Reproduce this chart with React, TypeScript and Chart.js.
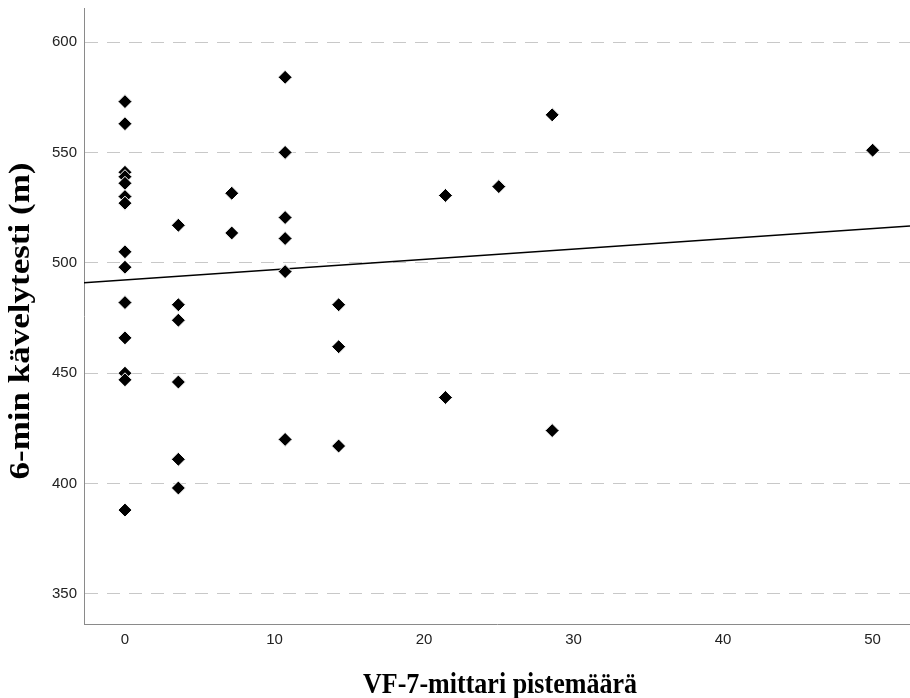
import React, { useEffect, useRef } from "react";
import { Chart, registerables } from "chart.js";

Chart.register(...registerables);

// VF-7 score (x) for each participant
const vfScore = [
  0, 0, 0, 0, 0, 0, 0, 0, 0, 0, 0, 0, 0, 0,
  3.57, 3.57, 3.57, 3.57, 3.57, 3.57,
  7.14, 7.14,
  10.71, 10.71, 10.71, 10.71, 10.71, 10.71,
  14.29, 14.29, 14.29,
  21.43, 21.43,
  25,
  28.57, 28.57,
  50,
];

// 6-minute walk test distance (m) for each participant
const walkDistance = [
  573, 563, 541, 539, 536, 530, 527, 505, 498, 482, 466, 450, 447, 388,
  517, 481, 474, 446, 411, 398,
  531.5, 513.5,
  584, 550, 520.5, 511, 496, 420,
  481, 462, 417,
  530.5, 439,
  534.5,
  567, 424,
  551,
];

// Fit line, read at left and right edges of the plot
const fitX = [-2.74, 52.5];
const fitY = [491, 516.7];

const xTicks = [0, 10, 20, 30, 40, 50];
const yTicks = [350, 400, 450, 500, 550, 600];
const xRange = [-2.74, 52.5];
const yRange = [336.4, 615.4];

const xTitle = "VF-7-mittari pistemäärä";
const yTitle = "6-min kävelytesti (m)";

const titlePlugin = {
  id: "axisTitlesCustom",
  afterDraw(chart: any) {
    const ctx = chart.ctx as CanvasRenderingContext2D;
    ctx.save();
    ctx.fillStyle = "#000";
    ctx.font = "bold 29px 'Liberation Serif', 'Times New Roman', serif";
    ctx.textAlign = "center";
    ctx.textBaseline = "alphabetic";
    const xw = ctx.measureText(xTitle).width;
    ctx.save();
    ctx.translate(500, 693);
    ctx.scale(274 / xw, 1);
    ctx.fillText(xTitle, 0, 0);
    ctx.restore();
    const yw = ctx.measureText(yTitle).width;
    ctx.save();
    ctx.translate(29, 321);
    ctx.rotate(-Math.PI / 2);
    ctx.scale(317 / yw, 1);
    ctx.fillText(yTitle, 0, 0);
    ctx.restore();
    ctx.restore();
  },
};

export default function App() {
  const canvasRef = useRef<HTMLCanvasElement | null>(null);

  useEffect(() => {
    const canvas = canvasRef.current;
    if (!canvas) return;
    const points = vfScore.map((x, i) => ({ x, y: walkDistance[i] }));
    const fit = fitX.map((x, i) => ({ x, y: fitY[i] }));
    const tickFont = { family: "'Liberation Sans', Arial, sans-serif", size: 15 };
    const chart = new Chart(canvas, {
      type: "scatter",
      data: {
        datasets: [
          {
            type: "scatter",
            data: points,
            pointStyle: "rectRot",
            pointRadius: 7,
            pointHoverRadius: 7,
            backgroundColor: "#000",
            borderColor: "#fff",
            borderWidth: 1,
            order: 1,
          } as any,
          {
            type: "line",
            data: fit,
            borderColor: "#000",
            borderWidth: 1.5,
            pointRadius: 0,
            fill: false,
            tension: 0,
            order: 2,
          } as any,
        ],
      },
      options: {
        responsive: false,
        animation: false,
        devicePixelRatio: 1,
        layout: { autoPadding: false, padding: { top: 8, left: 0, right: 0, bottom: 0 } },
        plugins: {
          legend: { display: false },
          tooltip: { enabled: false },
          title: { display: false },
        },
        scales: {
          x: {
            type: "linear",
            min: xRange[0],
            max: xRange[1],
            afterBuildTicks: (scale: any) => {
              scale.ticks = xTicks.map((v) => ({ value: v }));
            },
            afterFit: (scale: any) => {
              scale.height = 74;
              scale.paddingLeft = 0;
              scale.paddingRight = 0;
            },
            grid: { display: false, drawTicks: false },
            border: { display: true, color: "#8a8a8a", width: 1 },
            ticks: {
              padding: 7,
              color: "#222",
              font: tickFont,
              maxRotation: 0,
              autoSkip: false,
            },
            title: { display: false },
          },
          y: {
            type: "linear",
            min: yRange[0],
            max: yRange[1],
            afterBuildTicks: (scale: any) => {
              scale.ticks = yTicks.map((v) => ({ value: v }));
            },
            afterFit: (scale: any) => {
              scale.width = 84;
              scale.paddingTop = 0;
              scale.paddingBottom = 0;
            },
            grid: { display: true, drawTicks: false, color: "#c8c8c8", lineWidth: 1 },
            border: { display: true, color: "#8a8a8a", width: 1, dash: [13, 9] },
            ticks: {
              padding: 7,
              color: "#222",
              font: tickFont,
              autoSkip: false,
            },
            title: { display: false },
          },
        },
      },
      plugins: [titlePlugin],
    });
    return () => chart.destroy();
  }, []);

  return (
    <div style={{ position: "fixed", left: 0, top: 0, width: 910, height: 698, background: "#fff" }}>
      <canvas ref={canvasRef} width={910} height={698} style={{ width: 910, height: 698, display: "block" }} />
    </div>
  );
}
